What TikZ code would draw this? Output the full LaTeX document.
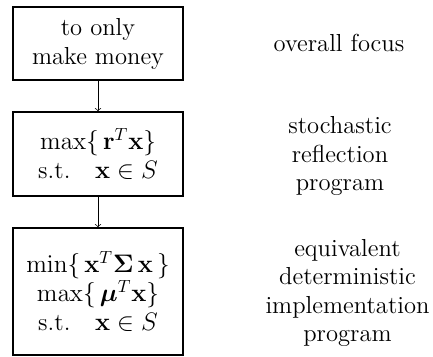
\documentclass[tikz,border=0pt]{standalone}
\usepackage{amsmath,amssymb}
\begin{document}
\begin{tikzpicture}[
    caja/.style={draw, thick, minimum width=3.4cm, align=center,
        font=\fontsize{14}{16.5}\selectfont},
    rotulo/.style={align=center, font=\fontsize{14}{16}\selectfont}]
    \useasboundingbox (0,0) rectangle (8.66,-7.12);
    % Cajas
    \node[caja, minimum height=1.46cm] (foco) at (1.96,-0.87)
        {to only\\make money};
    \node[caja, minimum height=1.68cm] (estoc) at (1.96,-3.08)
        {$\max\{\,\mathbf{r}^T\mathbf{x}\}$\\s.t.\quad $\mathbf{x}\in S$};
    \node[caja, minimum height=2.54cm] (determ) at (1.96,-5.83)
        {$\min\{\,\mathbf{x}^T\boldsymbol{\Sigma}\,\mathbf{x}\,\}$\\
         $\max\{\,\boldsymbol{\mu}^T\mathbf{x}\}$\\
         s.t.\quad $\mathbf{x}\in S$};
    % Flechas
    \draw[->] (foco) -- (estoc);
    \draw[->] (estoc) -- (determ);
    % Rotulos
    \node[rotulo] (rfoco) at (6.78,-0.86) {overall focus};
    \node[rotulo] (restoc) at (6.8,-3.12) {stochastic\\reflection\\program};
    \node[rotulo] (rdeterm) at (6.95,-5.86)
        {equivalent\\deterministic\\implementation\\program};
\end{tikzpicture}
\end{document}
